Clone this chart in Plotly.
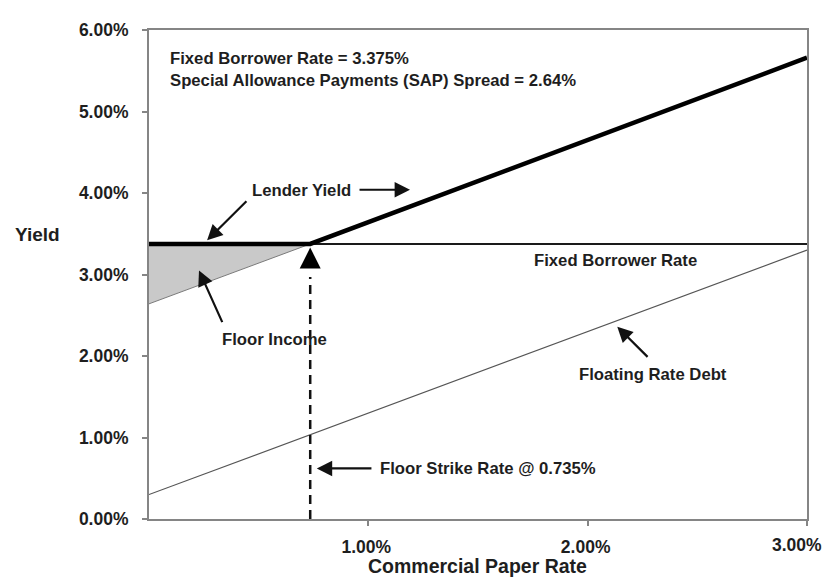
import plotly.graph_objects as go

# ---- data ----
cp_rate = [0.0, 0.735, 3.0]                 # commercial paper rate (%)
lender_yield = [3.375, 3.375, 5.66]         # lender yield (%)
fixed_x = [0.0, 3.0]
fixed_borrower = [3.375, 3.375]             # fixed borrower rate (%)
sap_x = [0.0, 0.735]
sap_below_floor = [2.64, 3.375]             # CP + SAP spread below the strike
floor_top = [3.375, 3.375]
floating_x = [0.0, 3.0]
floating_debt = [0.30, 3.30]                # floating rate debt (%)
strike_x = [0.735, 0.735]
strike_y = [0.0, 2.97]
strike_tip = [3.33]

y_tickvals = [0, 1, 2, 3, 4, 5, 6]
y_ticktext = ["0.00%", "1.00%", "2.00%", "3.00%", "4.00%", "5.00%", "6.00%"]
x_tickvals = [1, 2, 3]
x_ticktext = ["1.00%", "2.00%", "3.00%"]

FONT = "Arial, Liberation Sans, sans-serif"
TXT = "#1e1e1e"
ANN = 16.7
TICKFONT = dict(family=FONT, size=17.5, color=TXT, weight="bold")

fig = go.Figure()

# shaded floor income
fig.add_trace(go.Scatter(x=sap_x, y=floor_top, mode="lines",
                         line=dict(width=0, color="rgba(0,0,0,0)"), hoverinfo="skip"))
fig.add_trace(go.Scatter(x=sap_x, y=sap_below_floor, mode="lines", fill="tonexty",
                         fillcolor="#c9c9c9", line=dict(color="#7a7a7a", width=1)))
# floating rate debt
fig.add_trace(go.Scatter(x=floating_x, y=floating_debt, mode="lines",
                         line=dict(color="#555555", width=1.2)))
# fixed borrower rate
fig.add_trace(go.Scatter(x=fixed_x, y=fixed_borrower, mode="lines",
                         line=dict(color="#1a1a1a", width=2)))
# lender yield
fig.add_trace(go.Scatter(x=cp_rate, y=lender_yield, mode="lines",
                         line=dict(color="#000000", width=4.5)))
# strike dashed line
fig.add_trace(go.Scatter(x=strike_x, y=strike_y, mode="lines",
                         line=dict(color="#111111", width=2.5, dash="9px,6px")))
fig.add_trace(go.Scatter(x=strike_x[:1], y=strike_tip, mode="markers",
                         marker=dict(symbol="arrow-up", size=21, color="#000000",
                                     line=dict(width=0))))

def label(text, x, y, xanchor="center", size=ANN):
    fig.add_annotation(x=x, y=y, xref="x", yref="y", text=text, showarrow=False,
                       xanchor=xanchor, yanchor="middle",
                       font=dict(family=FONT, size=size, color=TXT, weight="bold"))

def arrow(x0, y0, x1, y1):
    fig.add_annotation(x=x1, y=y1, ax=x0, ay=y0, xref="x", yref="y",
                       axref="x", ayref="y", text="", showarrow=True,
                       arrowhead=2, arrowsize=1.4, arrowwidth=2.2,
                       arrowcolor="#111111", standoff=0, startstandoff=0)

label("Fixed Borrower Rate = 3.375%", 0.087, 5.645, xanchor="left")
label("Special Allowance Payments (SAP) Spread = 2.64%", 0.087, 5.377, xanchor="left")
label("Lender Yield", 0.693, 4.03)
arrow(0.953, 4.04, 1.19, 4.04)
arrow(0.451, 3.917, 0.265, 3.42)
label("Floor Income", 0.570, 2.202)
arrow(0.337, 2.397, 0.228, 3.05)
label("Fixed Borrower Rate", 2.125, 3.175)
label("Floating Rate Debt", 2.298, 1.776)
arrow(2.28, 1.971, 2.135, 2.36)
label("Floor Strike Rate @ 0.735%", 1.044, 0.62, xanchor="left")
arrow(1.021, 0.62, 0.765, 0.62)

# last x tick label sits at the very edge of the page: drawn right-aligned
# so that it is not hidden for crossing the figure boundary
fig.add_annotation(x=1.026, y=-0.0535, xref="paper", yref="paper",
                   text=x_ticktext[-1], showarrow=False,
                   xanchor="right", yanchor="middle", font=TICKFONT)

# axis titles
fig.add_annotation(x=-0.2067, y=3.49, xref="paper", yref="y", text="Yield",
                   showarrow=False, xanchor="left", yanchor="middle",
                   font=dict(family=FONT, size=19, color=TXT, weight="bold"))
fig.add_annotation(x=0.4985, y=-0.0965, xref="paper", yref="paper",
                   text="Commercial Paper Rate", showarrow=False,
                   xanchor="center", yanchor="middle",
                   font=dict(family=FONT, size=19.5, color=TXT, weight="bold"))

fig.update_xaxes(range=[0, 3], tickvals=x_tickvals,
                 ticktext=x_ticktext[:-1] + [""],
                 showgrid=False, zeroline=False, showline=True, mirror=True,
                 linecolor="#858585", linewidth=2, ticks="outside", ticklen=5,
                 tickcolor="#858585", tickwidth=1.5, ticklabelstandoff=6,
                 ticklabelshift=-2, tickfont=TICKFONT)
fig.update_yaxes(range=[0, 6], tickvals=y_tickvals, ticktext=y_ticktext,
                 showgrid=False, zeroline=False, showline=True, mirror=True,
                 linecolor="#858585", linewidth=2, ticks="outside", ticklen=5,
                 tickcolor="#858585", tickwidth=1.5, ticklabelstandoff=10,
                 tickfont=TICKFONT)

# the page body keeps its default 8px margin, so the figure is 16px smaller
# than the 833x586 window and all margins are measured from that offset
fig.update_layout(width=817, height=570, showlegend=False,
                  margin=dict(l=141, r=18, t=18, b=59),
                  paper_bgcolor="#ffffff", plot_bgcolor="#ffffff")

fig.write_html("out.html", config={"displayModeBar": False})
